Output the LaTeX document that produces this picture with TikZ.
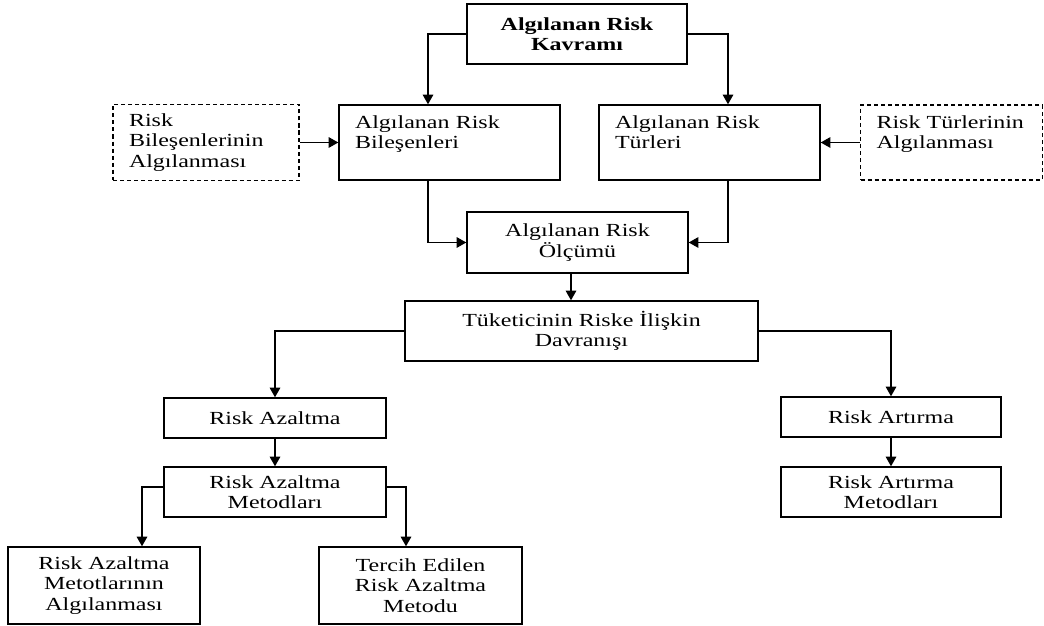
\documentclass[tikz,border=0pt]{standalone}
\usepackage{fontspec}
\setmainfont{Liberation Serif}[FakeStretch=1.3]
\usetikzlibrary{arrows.meta}

\newcommand{\yazi}{\fontsize{10.5}{11.5}\selectfont}

\begin{document}
\begin{tikzpicture}[>={Triangle[length=5.5pt, width=6pt]}, line width=0.8pt, font=\yazi,
    kutu/.style={draw, align=center, inner sep=1pt},
    solkutu/.style={draw, align=left, inner xsep=0.32cm, inner ysep=1pt},
    kesik/.style={solkutu, dash pattern=on 2.3pt off 1.7pt}]
    \useasboundingbox (0, 0) rectangle (20.88, 12.5);

    % üst kutu
    \node[kutu, minimum width=4.4cm, minimum height=1.2cm] (kavram) at (11.54, 11.82)
        {\textbf{Algılanan Risk}\\\textbf{Kavramı}};

    % bileşenler ve türler
    \node[solkutu, text width=3.78cm, minimum height=1.5cm] (bilesen) at (8.99, 9.65)
        {Algılanan Risk\\Bileşenleri\\~};
    \node[solkutu, text width=3.78cm, minimum height=1.5cm] (turler) at (14.19, 9.65)
        {Algılanan Risk\\Türleri\\~};
    \node[kesik, text width=3.08cm, minimum height=1.52cm] (bilalg) at (4.12, 9.65)
        {Risk\\Bileşenlerinin\\Algılanması};
    \node[kesik, text width=3.0cm, minimum height=1.5cm] (turalg) at (19.03, 9.65)
        {Risk Türlerinin\\Algılanması\\~};

    % ölçüm ve davranış
    \node[kutu, minimum width=4.42cm, minimum height=1.22cm] (olcum) at (11.55, 7.65)
        {Algılanan Risk\\Ölçümü};
    \node[kutu, minimum width=7.06cm, minimum height=1.2cm] (davranis) at (11.63, 5.88)
        {Tüketicinin Riske İlişkin\\Davranışı};

    % azaltma ve artırma
    \node[kutu, minimum width=4.44cm, minimum height=0.8cm] (azalt) at (5.5, 4.14) {Risk Azaltma};
    \node[kutu, minimum width=4.44cm, minimum height=1.0cm] (azmetod) at (5.5, 2.66)
        {Risk Azaltma\\Metodları};
    \node[kutu, minimum width=4.4cm, minimum height=0.8cm] (artir) at (17.82, 4.16) {Risk Artırma};
    \node[kutu, minimum width=4.4cm, minimum height=1.0cm] (armetod) at (17.82, 2.66)
        {Risk Artırma\\Metodları};

    % alt kutular
    \node[kutu, minimum width=3.84cm, minimum height=1.54cm] (metalg) at (2.08, 0.79)
        {Risk Azaltma\\Metotlarının\\Algılanması};
    \node[kutu, minimum width=4.06cm, minimum height=1.54cm] (tercih) at (8.41, 0.79)
        {Tercih Edilen\\Risk Azaltma\\Metodu};

    % oklar
    \draw[->] (kavram.west) -| ([xshift=-0.43cm]bilesen.north);
    \draw[->] (kavram.east) -| ([xshift=0.37cm]turler.north);
    \draw[->] (bilalg.east) -- (bilalg.east -| bilesen.west);
    \draw[->] (turalg.west) -- (turalg.west -| turler.east);
    \draw[->] ([xshift=-0.43cm]bilesen.south) |- (olcum.west);
    \draw[->] ([xshift=0.37cm]turler.south) |- (olcum.east);
    \draw[->] ([xshift=-0.13cm]olcum.south) -- ([xshift=-0.13cm]olcum.south |- davranis.north);
    \draw[->] (davranis.west) -| (azalt.north);
    \draw[->] (davranis.east) -| (artir.north);
    \draw[->] (azalt.south) -- (azmetod.north);
    \draw[->] (artir.south) -- (armetod.north);
    \draw[->] ([yshift=0.1cm]azmetod.west) -| ([xshift=0.76cm]metalg.north);
    \draw[->] ([yshift=0.1cm]azmetod.east) -| ([xshift=-0.29cm]tercih.north);
\end{tikzpicture}
\end{document}
